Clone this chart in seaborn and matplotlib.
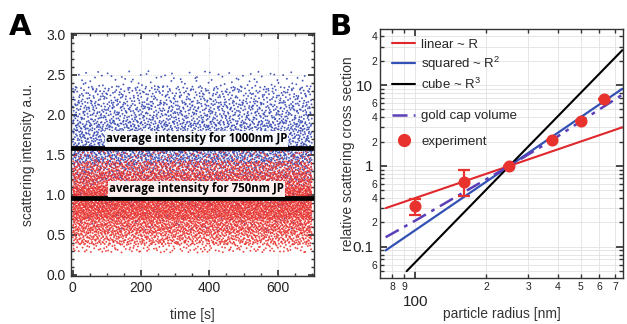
import numpy as np
import pandas as pd
import matplotlib
matplotlib.use("Agg")
import matplotlib.pyplot as plt
import matplotlib.ticker as mticker
from matplotlib.lines import Line2D
import seaborn as sns

# ---------------- data ----------------
# Panel A: intensity clouds described by quantiles
time_range = [0, 700]
quant_levels = [0.0, 0.02, 0.10, 0.25, 0.50, 0.75, 0.90, 0.98, 1.0]
blue_quantiles = [0.55, 0.85, 1.15, 1.38, 1.62, 1.92, 2.17, 2.36, 2.55]
red_quantiles = [0.28, 0.38, 0.52, 0.70, 0.90, 1.10, 1.28, 1.42, 1.55]
n_blue = 3800
n_red = 7000
avg_1000 = 1.585
avg_750 = 0.96
label_1000 = "average intensity for 1000nm JP"
label_750 = "average intensity for 750nm JP"

# Panel B
fit_R = [75, 750]
linear_y = [0.30, 3.0]
squared_y = [0.09, 9.0]
cube_R = [92, 750]
cube_y = [0.0498, 27.0]
gold_R = [75, 100, 160, 250, 375, 500, 625, 750]
gold_y = [0.131, 0.21, 0.47, 1.0, 2.05, 3.55, 5.4, 7.6]
exp_R = [100, 160, 250, 378, 503, 628]
exp_y = [0.315, 0.64, 1.0, 2.1, 3.62, 6.7]
exp_lo = [0.25, 0.425, 1.0, 2.1, 3.62, 6.7]
exp_hi = [0.385, 0.88, 1.0, 2.1, 3.62, 6.7]

# ---------------- style ----------------
sns.set_theme(style="ticks")
plt.rcParams["font.family"] = ["Liberation Sans", "DejaVu Sans"]
plt.rcParams["mathtext.fontset"] = "custom"
plt.rcParams["mathtext.rm"] = "Liberation Sans"
plt.rcParams["mathtext.it"] = "Liberation Sans:italic"
plt.rcParams["axes.edgecolor"] = "#333333"
plt.rcParams["axes.linewidth"] = 1.0

RED = "#e0282c"
BLUE = "#3350b4"
PURPLE = "#5a3fb8"
DOT_RED = "#e8322e"
DOT_BLUE = "#3346b0"

fig = plt.figure(figsize=(6.27, 3.24), dpi=100)
W, H = 627, 324
axA = fig.add_axes([71 / W, 1 - 275.7 / H, (314.3 - 71) / W, (275.7 - 33.3) / H])
axB = fig.add_axes([380 / W, 1 - 278 / H, (623 - 380) / W, (278 - 29.3) / H])

# ---------------- Panel A ----------------
def halton(idx, base):
    out = np.zeros(len(idx))
    f = np.ones(len(idx))
    i = idx.astype(float).copy()
    while np.any(i > 0):
        f = f / base
        out = out + f * np.mod(i, base)
        i = np.floor(i / base)
    return out

def cloud(start, n, qvals):
    idx = np.arange(start, start + n)
    t = time_range[0] + (time_range[1] - time_range[0]) * halton(idx, 2)
    u = halton(idx, 3)
    v = np.interp(u, quant_levels, qvals)
    return t, v

tb, vb = cloud(1, n_blue, blue_quantiles)
tr, vr = cloud(n_blue + 17, n_red, red_quantiles)
df = pd.concat([
    pd.DataFrame({"time": tb, "I": vb, "size": "1000"}),
    pd.DataFrame({"time": tr, "I": vr, "size": "750"}),
])
sns.scatterplot(data=df, x="time", y="I", hue="size",
                palette={"1000": DOT_BLUE, "750": DOT_RED},
                s=1.8, linewidth=0, alpha=0.9, legend=False, ax=axA)
axA.axhline(avg_1000, color="black", lw=3.4, zorder=3)
axA.axhline(avg_750, color="black", lw=3.4, zorder=3)
for y, txt in [(1.70, label_1000), (1.075, label_750)]:
    axA.text(362, y, txt, ha="center", va="center", fontsize=8.3,
             fontweight="bold", family=["Open Sans", "DejaVu Sans"],
             color="black", zorder=4,
             bbox=dict(facecolor="white", edgecolor="none", pad=0.8, alpha=0.9))
axA.set_xlim(-5, 707)
axA.set_ylim(-0.01, 3.02)
axA.set_xticks([0, 200, 400, 600])
axA.set_yticks(np.arange(0, 3.01, 0.5))
axA.yaxis.set_major_formatter(mticker.FormatStrFormatter("%.1f"))
axA.xaxis.set_minor_locator(mticker.MultipleLocator(50))
axA.yaxis.set_minor_locator(mticker.MultipleLocator(0.1))
axA.grid(True, which="major", color="#cccccc", lw=0.6, ls=":")
axA.tick_params(which="both", direction="in", top=True, right=True,
                colors="#333333", labelcolor="#222222", labelsize=10)
axA.tick_params(which="major", length=4, pad=4)
axA.tick_params(which="minor", length=2)
axA.set_xlabel("time [s]", fontsize=10, color="#333333", labelpad=9)
axA.set_ylabel("scattering intensity a.u.", fontsize=10, color="#333333", labelpad=8)
axA.set_axisbelow(True)

# ---------------- Panel B ----------------
axB.set_xscale("log")
axB.set_yscale("log")
axB.set_xlim(71, 755)
axB.set_ylim(0.041, 49)

sns.lineplot(x=fit_R, y=linear_y, color=RED, lw=1.5, ax=axB)
sns.lineplot(x=fit_R, y=squared_y, color=BLUE, lw=1.6, ax=axB)
sns.lineplot(x=cube_R, y=cube_y, color="black", lw=1.5, ax=axB)
sns.lineplot(x=gold_R, y=gold_y, color=PURPLE, lw=1.8, ax=axB)
axB.lines[-1].set_dashes([6, 2.5, 1.5, 2.5])
yerr = [np.array(exp_y) - np.array(exp_lo), np.array(exp_hi) - np.array(exp_y)]
axB.errorbar(exp_R, exp_y, yerr=yerr, fmt="none", ecolor=DOT_RED,
             elinewidth=1.6, capsize=4, capthick=1.6, zorder=5)
sns.scatterplot(x=exp_R, y=exp_y, color=DOT_RED, s=75, linewidth=0, ax=axB, zorder=6)

axB.xaxis.set_major_locator(mticker.FixedLocator([100]))
axB.xaxis.set_major_formatter(mticker.FixedFormatter(["100"]))
xminor = [80, 90, 200, 300, 400, 500, 600, 700]
axB.xaxis.set_minor_locator(mticker.FixedLocator(xminor))
axB.xaxis.set_minor_formatter(mticker.FuncFormatter(
    lambda v, p: "%d" % int(round(v / 10 ** np.floor(np.log10(v) + 1e-9)))))
axB.yaxis.set_major_locator(mticker.FixedLocator([0.1, 1, 10]))
axB.yaxis.set_major_formatter(mticker.FixedFormatter(["0.1", "1", "10"]))
yminor = [d * m for d in (0.01, 0.1, 1, 10) for m in range(2, 10)]
yminor = [v for v in yminor if 0.041 <= v <= 49]
axB.yaxis.set_minor_locator(mticker.FixedLocator(yminor))

def ymin_fmt(v, p):
    lead = int(round(v / 10 ** np.floor(np.log10(v) + 1e-9)))
    return str(lead) if lead in (2, 4, 6) else ""

axB.yaxis.set_minor_formatter(mticker.FuncFormatter(ymin_fmt))
axB.grid(True, which="both", color="#e2e2e2", lw=0.6)
axB.set_axisbelow(True)
axB.tick_params(which="both", direction="in", top=True, right=True,
                colors="#333333", labelcolor="#222222")
axB.tick_params(which="major", length=5, labelsize=11)
axB.tick_params(which="minor", length=3, labelsize=7.5, pad=2)
axB.tick_params(axis="x", which="major", pad=12.5)
axB.tick_params(axis="x", which="minor", pad=3)
axB.tick_params(axis="y", which="major", pad=5)
axB.set_xlabel("particle radius [nm]", fontsize=10, color="#333333", labelpad=-1.5)
axB.set_ylabel("relative scattering cross section", fontsize=10, color="#333333", labelpad=-2)

h1 = [Line2D([], [], color=RED, lw=1.5),
      Line2D([], [], color=BLUE, lw=1.6),
      Line2D([], [], color="black", lw=1.5)]
l1 = ["linear ~ R", "squared ~ R$^{2}$", "cube ~ R$^{3}$"]
leg1 = axB.legend(h1, l1, loc="center left", bbox_to_anchor=(0.05, 0.856),
                  frameon=False, fontsize=9.5, handlelength=1.75,
                  handletextpad=0.45, labelspacing=0.3, borderpad=0, borderaxespad=0)
axB.add_artist(leg1)
h2 = [Line2D([], [], color=PURPLE, lw=1.8, dashes=[6, 2.5, 1.5, 2.5]),
      Line2D([], [], color=DOT_RED, marker="o", ls="none", markersize=8.5)]
l2 = ["gold cap volume", "experiment"]
axB.legend(h2, l2, loc="center left", bbox_to_anchor=(0.05, 0.6),
           frameon=False, fontsize=9.5, handlelength=1.75,
           handletextpad=0.45, labelspacing=1.0, borderpad=0, borderaxespad=0)

# panel letters
fig.text(9 / W, 1 - 35 / H, "A", fontsize=21, fontweight="heavy", va="baseline",
         family=["DejaVu Sans"], color="black")
fig.text(329 / W, 1 - 35 / H, "B", fontsize=21, fontweight="heavy", va="baseline",
         family=["DejaVu Sans"], color="black")

fig.savefig("out.png", dpi=100)
